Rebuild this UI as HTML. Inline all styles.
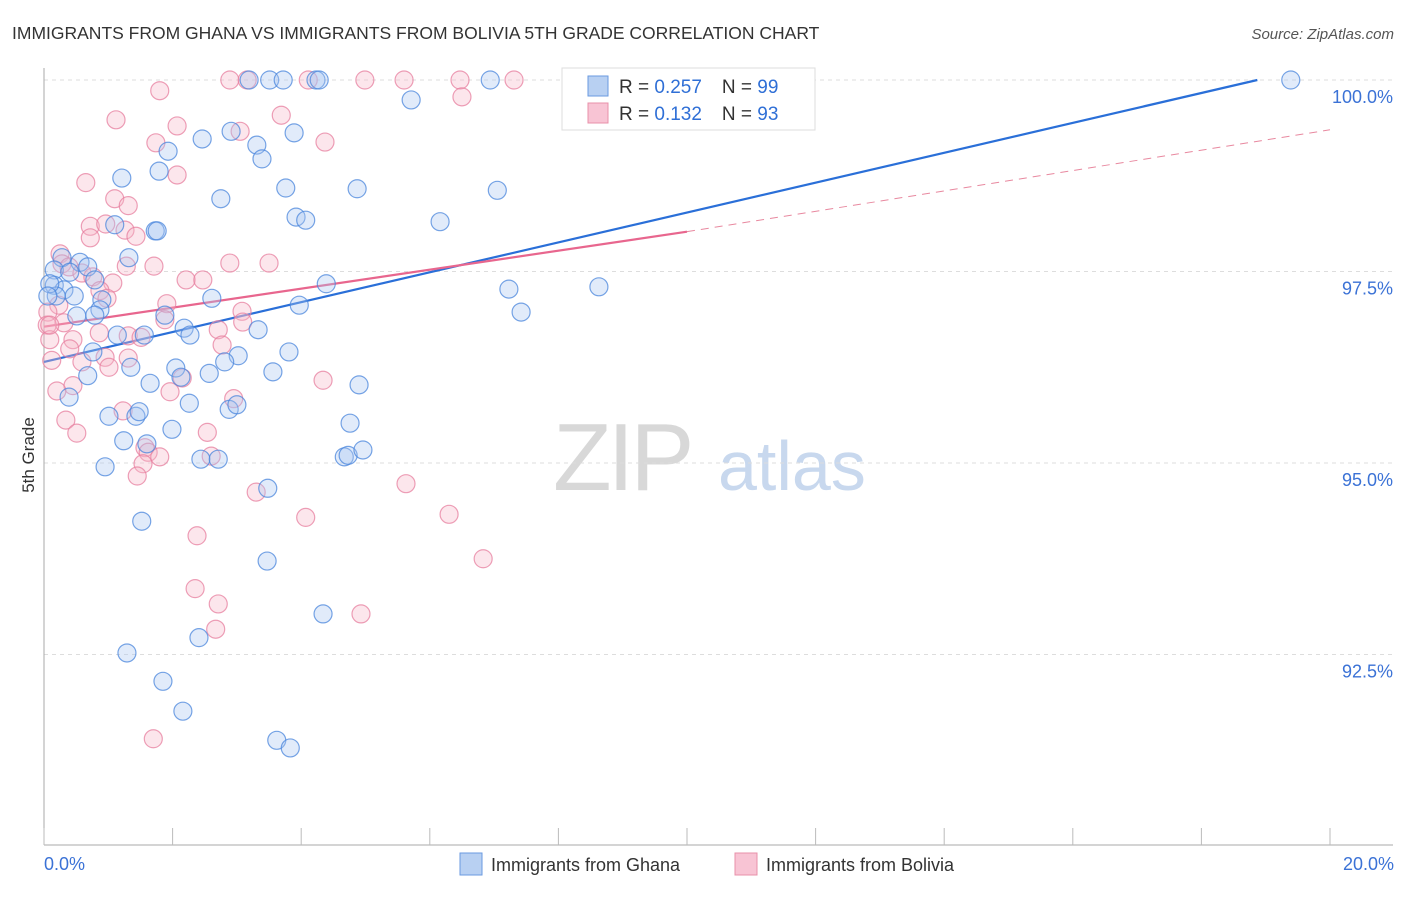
<!DOCTYPE html>
<html><head><meta charset="utf-8">
<style>
body{margin:0;background:#fff;font-family:"Liberation Sans",sans-serif;}
svg text{font-family:"Liberation Sans",sans-serif;}
</style></head>
<body>
<svg id="chart" width="1406" height="892" viewBox="0 0 1406 892" xmlns="http://www.w3.org/2000/svg">
<text x="12" y="39" font-size="17.5" fill="#333">IMMIGRANTS FROM GHANA VS IMMIGRANTS FROM BOLIVIA 5TH GRADE CORRELATION CHART</text>
<text x="1394" y="39" font-size="15" fill="#555" font-style="italic" text-anchor="end">Source: ZipAtlas.com</text>
<g>
<text x="553" y="490" font-size="96" fill="#d8d8d8" font-family="Liberation Serif" letter-spacing="-4">ZIP</text>
<text x="718" y="490" font-size="70" fill="#c8d8ee">atlas</text>
</g>
<g id="grid"></g>
<g id="axes"></g>
<g id="trends"></g>
<g id="points"></g>
<text transform="translate(34,455) rotate(-90)" font-size="17" fill="#333" text-anchor="middle">5th Grade</text>
<g>
<rect x="562" y="68" width="253" height="62" fill="#fff" stroke="#ddd"/>
<rect x="588" y="76" width="20" height="20" fill="#b8d0f2" stroke="#6a9ae0"/>
<rect x="588" y="103" width="20" height="20" fill="#f8c4d4" stroke="#e890aa"/>
<text x="619" y="93" font-size="19" fill="#333">R = <tspan fill="#2f6fd6">0.257</tspan><tspan dx="20">N = </tspan><tspan fill="#2f6fd6">99</tspan></text>
<text x="619" y="120" font-size="19" fill="#333">R = <tspan fill="#2f6fd6">0.132</tspan><tspan dx="20">N = </tspan><tspan fill="#2f6fd6">93</tspan></text>
</g>
<g>
<rect x="460" y="853" width="22" height="22" fill="#b8d0f2" stroke="#6a9ae0"/>
<text x="491" y="871" font-size="18" fill="#333">Immigrants from Ghana</text>
<rect x="735" y="853" width="22" height="22" fill="#f8c4d4" stroke="#e890aa"/>
<text x="766" y="871" font-size="18" fill="#333">Immigrants from Bolivia</text>
</g>
</svg>
<script>
const yTicks=[100,97.5,95,92.5];
const yTickLabels=["100.0%","97.5%","95.0%","92.5%"];
const xTickLabels=["0.0%","20.0%"];
const ghanaX=[3.19,3.51,3.72,4.23,4.28,6.94,8.24,9.19,19.39,5.71,2.91,2.46,1.93,3.31,3.39,3.89,1.21,1.79,2.75,3.76,4.87,7.05,3.92,4.07,6.16,1.10,1.73,1.76,0.28,0.56,0.68,1.32,0.16,0.40,0.79,0.16,0.31,0.19,0.47,4.39,7.23,8.63,2.61,3.97,0.90,7.42,0.87,0.79,0.51,1.88,2.18,2.27,1.56,1.14,3.33,3.81,3.02,2.81,0.76,1.35,2.05,2.13,2.57,3.56,0.68,1.65,4.90,0.39,2.26,2.88,3.00,1.01,1.43,1.48,4.76,1.99,1.24,1.60,2.44,2.71,4.67,4.73,4.96,0.95,3.48,1.52,3.47,4.34,2.41,1.29,1.85,2.16,3.62,3.83,0.09,0.06];
const ghanaY=[100,100,100,100,100,100,100,100,100,99.74,99.33,99.23,99.07,99.15,98.97,99.31,98.72,98.81,98.45,98.59,98.58,98.56,98.21,98.17,98.15,98.11,98.03,98.03,97.68,97.62,97.56,97.68,97.52,97.49,97.39,97.32,97.26,97.18,97.18,97.34,97.27,97.30,97.15,97.06,97.13,96.97,97.00,96.93,96.92,96.93,96.76,96.67,96.67,96.67,96.74,96.45,96.40,96.32,96.45,96.25,96.24,96.12,96.17,96.19,96.14,96.04,96.02,95.86,95.78,95.70,95.76,95.61,95.61,95.67,95.52,95.44,95.29,95.25,95.05,95.05,95.08,95.10,95.17,94.95,94.67,94.24,93.72,93.03,92.72,92.52,92.15,91.76,91.38,91.28,97.34,97.18];
const boliviaX=[2.89,3.16,4.11,4.99,5.60,6.47,7.31,1.80,6.50,3.69,1.12,2.07,1.74,3.05,4.37,2.07,0.65,1.10,1.31,0.72,0.96,1.26,1.43,0.72,2.89,3.50,0.25,0.28,0.39,0.59,0.76,1.28,1.71,2.21,2.47,1.07,0.87,0.98,1.91,3.08,0.31,0.23,0.06,0.05,0.09,1.88,3.09,0.45,0.86,1.31,1.51,2.71,2.77,0.40,0.12,0.59,0.95,1.31,1.01,0.45,2.15,4.34,0.20,1.96,2.95,1.23,0.34,0.51,2.54,1.57,1.62,1.80,1.54,2.60,1.45,3.30,5.63,4.07,6.30,2.38,6.83,2.35,2.71,2.67,4.93,1.70,0.09];
const boliviaY=[100,100,100,100,100,100,100,99.86,99.78,99.54,99.48,99.40,99.18,99.33,99.19,98.76,98.66,98.45,98.36,98.09,98.12,98.04,97.96,97.94,97.61,97.61,97.73,97.60,97.56,97.48,97.43,97.57,97.57,97.39,97.39,97.35,97.25,97.15,97.08,96.98,96.83,97.06,96.97,96.80,96.61,96.87,96.84,96.61,96.70,96.66,96.64,96.74,96.54,96.49,96.34,96.32,96.38,96.37,96.25,96.01,96.11,96.08,95.94,95.93,95.84,95.68,95.56,95.39,95.40,95.20,95.14,95.08,94.99,95.09,94.83,94.62,94.73,94.29,94.33,94.05,93.75,93.36,93.16,92.83,93.03,91.40,96.80];
const ghanaTrend=[0,96.32,18.87,100];
const boliviaTrendSolid=[0,96.78,10,98.02];
const boliviaTrendDashed=[10,98.02,20,99.35];

const NS="http://www.w3.org/2000/svg";
const sx=v=>44+v*64.3;
const sy=v=>80+(100-v)*76.6;
function mk(tag,attrs,parent){const e=document.createElementNS(NS,tag);for(const k in attrs)e.setAttribute(k,attrs[k]);parent.appendChild(e);return e;}
const grid=document.getElementById('grid'),axes=document.getElementById('axes'),trends=document.getElementById('trends'),pts=document.getElementById('points');
yTicks.forEach((t,i)=>{
  const l=mk('line',{x1:44,x2:1393,y1:sy(t),y2:sy(t),stroke:'#ddd','stroke-dasharray':'4,4'},grid);
  
  
  const tx=mk('text',{x:1393,y:sy(t)+23,'font-size':18,fill:'#3b72d6','text-anchor':'end'},axes);
  tx.textContent=yTickLabels[i];
  
  
});
const ya=mk('line',{x1:44,x2:44,y1:68,y2:845,stroke:'#aaa'},axes);


const xa=mk('line',{x1:44,x2:1393,y1:845,y2:845,stroke:'#aaa'},axes);


for(let i=0;i<=10;i++){
  const tk=mk('line',{x1:sx(i*2),x2:sx(i*2),y1:828,y2:845,stroke:'#bbb'},axes);
  
  
}
const xl0=mk('text',{x:44,y:870,'font-size':18,fill:'#3b72d6'},axes);
xl0.textContent=xTickLabels[0];


const xl1=mk('text',{x:1394,y:870,'font-size':18,fill:'#3b72d6','text-anchor':'end'},axes);
xl1.textContent=xTickLabels[1];



function dots(X,Y,fill,stroke,name){
  X.forEach((x,i)=>{
    const c=mk('circle',{cx:sx(x),cy:sy(Y[i]),r:9,fill:fill,'fill-opacity':0.35,stroke:stroke,'stroke-opacity':0.75,'stroke-width':1.2},pts);
    
    
  });
}
dots(boliviaX,boliviaY,'#f7b6c9','#e77f9f','bolivia-point');
dots(ghanaX,ghanaY,'#a9c7f0','#4a86dc','ghana-point');

const t1=mk('line',{x1:sx(ghanaTrend[0]),y1:sy(ghanaTrend[1]),x2:sx(ghanaTrend[2]),y2:sy(ghanaTrend[3]),stroke:'#2a6fd8','stroke-width':2.2},trends);


const t2=mk('line',{x1:sx(boliviaTrendSolid[0]),y1:sy(boliviaTrendSolid[1]),x2:sx(boliviaTrendSolid[2]),y2:sy(boliviaTrendSolid[3]),stroke:'#e8668e','stroke-width':2.2},trends);


const t3=mk('line',{x1:sx(boliviaTrendDashed[0]),y1:sy(boliviaTrendDashed[1]),x2:sx(boliviaTrendDashed[2]),y2:sy(boliviaTrendDashed[3]),stroke:'#e8889f','stroke-width':1,'stroke-dasharray':'8,6'},trends);


</script>
</body></html>
